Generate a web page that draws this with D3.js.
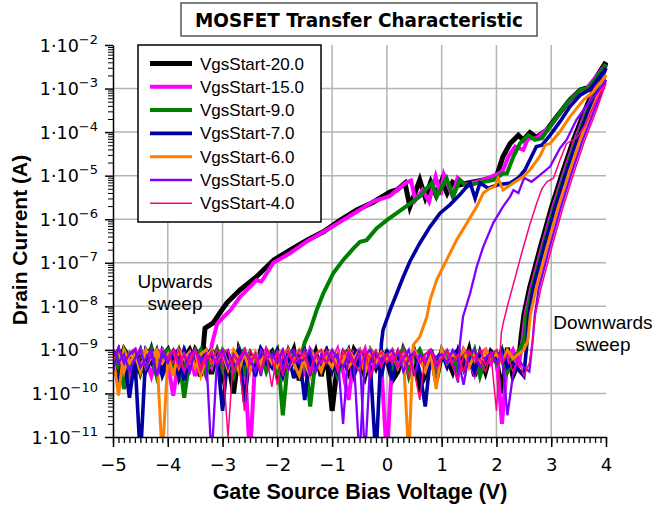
<!DOCTYPE html>
<html>
<head>
<meta charset="utf-8">
<script src="https://cdn.jsdelivr.net/npm/d3@7"></script>
<style>
  body { margin: 0; background: #fff; }
</style>
</head>
<body>
<div id="vis"></div>
<script>
// Transfer curves, values are log10(Id / A).
// Noise arrays are sampled every 0.1 V starting at the noise start voltage.
const seriesNames = ["VgsStart-20.0", "VgsStart-15.0", "VgsStart-9.0", "VgsStart-7.0", "VgsStart-6.0", "VgsStart-5.0", "VgsStart-4.0"]
const xTicks = [-5, -4, -3, -2, -1, 0, 1, 2, 3, 4]
const yDecades = [-11, -10, -9, -8, -7, -6, -5, -4, -3, -2]
const noiseStep = 0.1

// VgsStart -20
const blackUpNoise = [-9.1, -9.3, -9.0, -9.2, -9.05, -9.5, -9.1, -9.0, -9.3, -9.15, -9.0, -9.4, -9.1, -9.2, -9.0, -9.3, -9.6]
const blackUpCurve = [[-3.32, -8.50], [-3.17, -8.38], [-3.05, -8.15], [-2.92, -7.92], [-2.68, -7.62], [-2.38, -7.32], [-2.07, -6.94], [-1.77, -6.71], [-1.46, -6.48], [-1.16, -6.29], [-0.85, -6.02], [-0.55, -5.79], [-0.25, -5.61], [0.06, -5.37], [0.18, -5.33], [0.33, -5.17], [0.42, -5.71], [0.60, -5.10], [0.70, -5.50], [0.80, -5.15], [0.90, -5.45], [1.00, -5.12], [1.10, -5.40], [1.20, -5.15], [1.30, -5.22], [1.46, -5.17], [1.76, -5.10], [2.00, -5.02], [2.12, -4.56], [2.25, -4.26], [2.40, -4.07], [2.49, -4.18], [2.61, -4.01], [2.73, -4.12], [2.92, -3.95], [3.10, -3.65], [3.34, -3.26], [3.53, -3.03], [3.71, -2.96], [4.00, -2.39]]
const blackDownCurve = [[4.00, -2.40], [3.80, -2.95], [3.60, -3.55], [3.40, -4.20], [3.20, -4.95], [3.00, -5.75], [2.80, -6.65], [2.60, -7.60], [2.50, -8.20], [2.45, -8.70]]
const blackDownNoise = [
  -9.2, -9.45, -9.0, -9.2, -9.55, -9.1, -9.4, -9.0, -9.5, -9.05,
  -9.3, -9.1, -9.6, -9.15, -9.4, -9.0, -9.2, -9.1, -9.55, -9.0,
  -9.6, -9.2, -10.0, -9.0, -9.3, -9.1, -9.45, -9.0, -9.2, -9.05,
  -9.55, -9.1, -9.3, -9.0, -9.7, -9.1, -9.4, -9.05, -9.6, -9.1,
  -10.4, -9.3, -9.15, -9.5, -9.0, -9.2, -9.6, -9.1, -9.4, -9.05,
  -9.2, -9.7, -9.5, -9.0, -9.3, -9.1, -9.85, -9.6, -9.0, -9.7,
  -9.1, -9.2, -9.5, -9.05, -9.4, -9.0, -9.6, -9.1, -9.5, -9.05,
  -9.2, -10.0, -8.95, -9.6, -9.3]

// VgsStart -15
const magentaUpNoise = [-9.3, -9.05, -9.5, -9.1, -9.0, -9.4, -9.2, -9.6, -9.1, -9.0, -9.3, -10.05, -9.2, -9.0, -9.45, -9.1, -9.3, -9.6]
const magentaUpCurve = [[-3.19, -8.85], [-3.10, -8.40], [-2.98, -8.24], [-2.85, -8.08], [-2.68, -7.78], [-2.38, -7.40], [-2.29, -7.43], [-2.07, -7.00], [-1.77, -6.78], [-1.46, -6.51], [-1.16, -6.29], [-0.85, -6.06], [-0.55, -5.83], [-0.25, -5.59], [0.05, -5.47], [0.35, -5.16], [0.44, -5.11], [0.52, -5.56], [0.65, -5.33], [0.77, -5.60], [0.89, -5.02], [0.98, -5.44], [1.04, -4.98], [1.20, -5.48], [1.29, -5.05], [1.43, -5.21], [1.76, -5.10], [2.06, -4.94], [2.12, -4.87], [2.22, -4.56], [2.34, -4.33], [2.49, -4.41], [2.58, -4.14], [2.73, -4.14], [2.98, -3.88], [3.22, -3.45], [3.46, -3.11], [3.65, -2.99], [4.00, -2.45]]
const magentaDownCurve = [[4.00, -2.45], [3.82, -2.95], [3.63, -3.55], [3.43, -4.20], [3.23, -4.95], [3.03, -5.75], [2.83, -6.65], [2.63, -7.60], [2.53, -8.20], [2.48, -8.75]]
const magentaDownNoise = [
  -9.0, -9.35, -9.1, -9.6, -9.2, -9.0, -9.45, -9.1, -9.3, -9.05,
  -9.5, -9.2, -9.0, -9.35, -9.1, -9.6, -9.05, -9.2, -9.4, -9.0,
  -9.3, -9.1, -9.5, -9.0, -9.2, -11.5, -9.1, -9.4, -9.0, -9.25,
  -9.1, -9.5, -9.0, -9.3, -9.15, -9.6, -9.0, -9.2, -9.45, -9.1,
  -9.3, -9.0, -9.5, -10.15, -9.1, -9.3, -9.0, -9.6, -9.15, -9.4,
  -11.5, -9.1, -9.3, -9.0, -9.5, -9.2, -9.05, -9.4, -9.1, -9.6,
  -9.0, -9.3, -9.1, -9.45, -9.0, -9.2, -9.55, -9.1, -9.0, -9.3,
  -9.1, -10.7, -9.2, -9.0, -9.4]

// VgsStart -9
const greenUpNoise = [
  -9.2, -9.0, -9.9, -9.3, -9.1, -9.5, -9.0, -9.2, -9.6, -9.1,
  -9.0, -9.4, -9.1, -10.1, -9.2, -9.0, -9.5, -9.1, -9.3, -9.0,
  -9.45, -9.1, -9.2, -9.0, -9.6, -9.1, -9.3, -9.05, -9.5, -9.2,
  -9.0, -10.5, -9.2, -9.1, -9.3]
const greenUpCurve = [[-1.50, -8.83], [-1.40, -8.54], [-1.28, -8.08], [-1.16, -7.70], [-0.98, -7.24], [-0.80, -6.94], [-0.61, -6.67], [-0.49, -6.52], [-0.37, -6.48], [-0.19, -6.21], [0.00, -6.02], [0.30, -5.75], [0.60, -5.48], [0.73, -5.29], [0.82, -5.17], [0.91, -5.48], [1.09, -5.06], [1.21, -5.48], [1.33, -5.10], [1.46, -5.25], [1.64, -5.17], [1.94, -5.10], [2.12, -4.95], [2.19, -4.95], [2.31, -4.56], [2.43, -4.26], [2.58, -4.07], [2.70, -4.18], [2.83, -4.14], [3.04, -3.76], [3.28, -3.34], [3.53, -3.03], [3.68, -2.99], [4.00, -2.46]]
const greenDownCurve = [[4.00, -2.46], [3.85, -2.95], [3.65, -3.55], [3.45, -4.20], [3.25, -4.95], [3.05, -5.75], [2.85, -6.65], [2.65, -7.60], [2.55, -8.20], [2.50, -8.80]]
const greenDownNoise = [
  -9.1, -9.4, -9.0, -9.2, -9.5, -9.05, -9.3, -9.0, -9.6, -9.2,
  -9.1, -9.3, -9.0, -9.45, -9.1, -9.2, -9.0, -9.55, -9.15, -9.3,
  -9.0, -9.2, -9.6, -9.1, -9.0, -9.4, -9.2, -9.05, -9.3, -9.1,
  -9.5, -9.2, -9.0, -9.3, -9.1, -9.05, -10.3, -9.2, -9.4, -9.0,
  -9.2, -9.6, -9.1, -9.0, -9.35, -9.1, -9.5, -9.0, -9.2, -9.3,
  -9.05, -9.4, -9.1, -9.0, -9.6, -9.2, -9.0, -9.3, -9.1, -9.45,
  -9.0, -9.2, -9.1, -9.5, -9.05, -9.3, -9.0, -9.6, -9.2, -9.1,
  -9.3, -9.0, -9.5, -9.2, -9.05]

// VgsStart -7
const blueUpNoise = [
  -9.4, -9.7, -9.1, -10.1, -9.2, -11.5, -9.05, -9.3, -9.0, -9.5,
  -9.1, -9.2, -9.6, -9.0, -9.3, -9.1, -9.45, -9.0, -9.2, -9.1,
  -10.4, -9.1, -9.3, -9.0, -10.2, -9.15, -9.5, -9.0, -9.3, -9.1,
  -9.2, -9.6, -9.05, -9.3, -9.1, -10.15, -9.0, -9.4, -9.2, -9.0,
  -9.5, -9.1, -9.3, -9.0, -9.6, -9.2, -9.1, -9.4, -11.5]
const blueUpCurve = [[-0.10, -8.85], [-0.07, -8.54], [0.06, -8.08], [0.18, -7.70], [0.30, -7.32], [0.42, -6.97], [0.60, -6.55], [0.79, -6.17], [0.97, -5.86], [1.15, -5.67], [1.33, -5.44], [1.46, -5.25], [1.52, -5.17], [1.61, -5.52], [1.70, -5.17], [1.85, -5.29], [2.03, -5.21], [2.25, -5.17], [2.40, -5.05], [2.52, -4.87], [2.64, -4.56], [2.73, -4.33], [2.83, -4.30], [2.98, -4.07], [3.16, -3.76], [3.34, -3.42], [3.53, -3.15], [3.71, -3.02], [4.00, -2.53]]
const blueDownCurve = [[4.00, -2.53], [3.87, -2.95], [3.67, -3.55], [3.47, -4.20], [3.27, -4.95], [3.07, -5.75], [2.87, -6.65], [2.67, -7.60], [2.59, -8.20], [2.56, -8.80]]
const blueDownNoise = [
  -9.2, -9.0, -9.4, -9.1, -9.3, -9.0, -9.5, -9.2, -9.05, -9.6,
  -9.3, -9.1, -9.0, -9.7, -9.2, -9.05, -9.4, -9.1, -9.0, -9.3,
  -9.1, -9.5, -9.2, -9.0, -9.3, -9.1, -9.6, -9.05, -9.2, -9.4,
  -9.0, -9.3, -9.1, -9.65, -9.2, -9.0, -9.4, -9.1, -9.3, -9.0,
  -9.2, -9.5, -9.05, -9.3, -9.1, -9.0, -9.4, -9.2, -9.1, -9.6,
  -9.0, -9.7, -9.2, -9.1, -9.3, -9.0, -9.5, -10.3, -9.1, -9.2,
  -9.05, -9.4, -9.1, -9.0, -9.3, -9.2, -9.5, -9.05, -9.3, -9.1,
  -9.2, -9.0, -9.4, -9.3, -9.45, -9.6]

// VgsStart -6
const orangeUpNoise = [
  -9.1, -10.05, -9.0, -9.3, -9.1, -9.5, -9.0, -9.2, -9.1, -11.5,
  -9.2, -9.0, -9.4, -9.1, -9.3, -9.05, -9.6, -9.2, -9.0, -9.3,
  -9.1, -9.45, -9.0, -9.2, -9.1, -9.5, -9.05, -9.3, -9.0, -9.2,
  -9.4, -9.1, -9.0, -9.3, -9.6, -9.1, -9.0, -9.2, -9.5, -9.1,
  -9.0, -9.3, -9.1, -9.4, -9.2, -9.0, -9.5, -9.1, -9.3, -9.05,
  -9.2, -9.0, -9.4, -9.1, -11.5]
const orangeUpCurve = [[0.48, -8.89], [0.60, -8.70], [0.73, -8.24], [0.79, -7.85], [0.91, -7.39], [1.09, -6.94], [1.27, -6.48], [1.46, -6.09], [1.64, -5.71], [1.76, -5.40], [1.88, -5.29], [1.97, -5.25], [2.03, -5.06], [2.12, -5.33], [2.31, -5.17], [2.49, -5.02], [2.61, -4.87], [2.79, -4.56], [2.89, -4.30], [2.98, -4.26], [3.16, -3.99], [3.34, -3.65], [3.59, -3.26], [3.77, -3.07], [4.00, -2.69]]
const orangeDownCurve = [[4.00, -2.69], [3.90, -3.00], [3.72, -3.55], [3.52, -4.20], [3.32, -4.95], [3.12, -5.75], [2.92, -6.65], [2.72, -7.60], [2.62, -8.20], [2.57, -8.80]]
const orangeDownNoise = [
  -9.3, -9.0, -9.5, -9.1, -9.2, -9.0, -9.4, -9.15, -9.0, -9.3,
  -9.1, -9.6, -9.0, -9.2, -9.05, -9.4, -9.1, -9.0, -9.3, -9.2,
  -9.0, -9.35, -9.1, -9.5, -9.0, -9.2, -9.1, -9.4, -9.05, -9.3,
  -9.1, -9.0, -9.45, -9.2, -9.0, -9.3, -9.6, -9.1, -9.0, -9.2,
  -9.4, -9.05, -9.3, -9.0, -9.2, -9.1, -9.5, -9.0, -9.3, -9.1,
  -9.2, -9.0, -9.4, -9.1, -9.3, -9.0, -9.2, -9.5, -9.1, -9.9,
  -9.0, -9.3, -9.1, -9.2, -9.0, -9.4, -9.1, -9.3, -9.0, -9.2,
  -9.1, -9.3, -9.0, -9.2, -9.1, -9.0]

// VgsStart -5
const purpleUpNoise = [
  -9.5, -8.95, -9.3, -9.1, -9.0, -9.4, -9.2, -9.0, -9.6, -9.1,
  -9.3, -9.0, -9.2, -9.5, -9.1, -9.0, -9.3, -9.1, -11.5, -9.2,
  -9.0, -9.4, -9.1, -9.3, -9.05, -9.2, -9.5, -9.0, -9.2, -9.1,
  -9.3, -9.0, -9.45, -9.1, -9.2, -9.0, -9.6, -9.1, -9.3, -9.05,
  -9.2, -9.1, -10.7, -9.0, -9.3, -11.5, -9.1, -9.0, -9.4, -9.2,
  -9.1, -9.3, -9.0, -9.5, -9.2, -9.05, -9.3, -9.1, -9.0, -9.4,
  -9.2, -9.0, -9.3, -9.75]
const purpleUpCurve = [[1.33, -8.89], [1.39, -8.24], [1.52, -7.70], [1.64, -7.09], [1.76, -6.63], [1.94, -6.09], [2.12, -5.71], [2.25, -5.48], [2.31, -5.33], [2.40, -5.40], [2.49, -5.10], [2.52, -5.06], [2.64, -5.14], [2.76, -5.02], [2.98, -4.79], [3.16, -4.37], [3.28, -4.18], [3.46, -3.72], [3.65, -3.38], [3.83, -3.11], [4.00, -2.80]]
const purpleDownCurve = [[4.00, -2.80], [3.93, -3.05], [3.77, -3.55], [3.57, -4.20], [3.37, -4.95], [3.17, -5.75], [2.97, -6.65], [2.77, -7.60], [2.70, -8.20], [2.66, -8.80]]
const purpleDownNoise = [
  -9.0, -9.3, -9.1, -9.5, -9.2, -9.0, -9.4, -9.1, -9.6, -9.05,
  -9.2, -9.0, -9.35, -9.1, -9.5, -9.0, -9.2, -9.3, -9.05, -9.4,
  -9.1, -9.0, -9.5, -9.2, -9.0, -9.3, -9.1, -9.6, -9.0, -9.2,
  -9.05, -9.4, -9.1, -9.0, -9.3, -9.2, -9.0, -9.5, -9.1, -9.3,
  -9.0, -9.2, -9.4, -9.1, -9.3, -9.0, -11.5, -9.2, -9.05, -9.3,
  -9.1, -9.0, -9.4, -9.2, -9.0, -9.6, -9.1, -9.3, -9.0, -9.2,
  -9.1, -9.3, -9.0, -9.2, -9.8, -9.1, -9.0, -9.4, -9.2, -9.05,
  -9.3, -9.1, -10.5, -9.6, -9.2, -9.4, -9.5]

// VgsStart -4
const pinkUpNoise = [
  -9.1, -9.3, -9.0, -9.5, -9.2, -9.0, -9.4, -9.1, -9.3, -9.0,
  -9.2, -11.0, -9.1, -9.3, -10.4, -9.0, -9.2, -9.5, -9.1, -9.85,
  -9.0, -9.6, -9.1, -9.3, -9.0, -9.2, -9.45, -9.1, -9.0, -9.3,
  -9.1, -9.5, -9.0, -9.2, -9.35, -9.1, -9.0, -9.6, -9.2, -9.05,
  -9.3, -9.1, -9.4, -9.0, -9.2, -9.5, -10.15, -9.1, -9.0, -9.3,
  -9.2, -9.05, -9.4, -9.7, -9.1, -9.0, -9.3, -9.2, -9.5, -9.1,
  -10.4]
const pinkUpCurve = [[2.09, -8.60], [2.13, -8.35], [2.22, -7.90], [2.34, -7.35], [2.46, -6.78], [2.61, -6.12], [2.73, -5.65], [2.83, -5.30], [2.92, -5.14], [3.04, -5.06], [3.16, -4.64], [3.28, -4.26], [3.46, -4.14], [3.62, -3.84], [3.77, -3.42], [3.89, -3.11], [4.00, -2.88]]
const pinkDownCurve = [[4.00, -2.88], [3.95, -3.05], [3.81, -3.55], [3.61, -4.20], [3.41, -4.95], [3.21, -5.75], [3.01, -6.65], [2.81, -7.60], [2.71, -8.20], [2.66, -8.80]]
const pinkDownNoise = [
  -9.2, -9.0, -9.4, -9.1, -9.3, -9.0, -9.5, -9.2, -9.05, -9.3,
  -9.1, -9.0, -9.5, -9.2, -9.0, -9.3, -9.1, -9.45, -9.0, -9.2,
  -9.8, -9.1, -9.0, -9.3, -9.2, -9.05, -9.5, -9.1, -9.3, -9.0,
  -9.2, -9.4, -9.1, -9.0, -9.3, -9.5, -9.05, -9.2, -9.0, -9.4,
  -9.1, -9.3, -9.0, -9.2, -9.6, -9.05, -9.3, -9.1, -9.0, -9.45,
  -9.2, -9.0, -9.3, -9.1, -9.5, -9.05, -9.2, -9.0, -9.35, -9.1,
  -9.0, -9.3, -9.1, -9.5, -9.2, -9.6, -9.3]

const noiseStarts = [-5, -5, -5, -5, -5, -5, -4]
const colors = ["#000000", "#ff00ff", "#008000", "#0000a0", "#ff8000", "#8000ff", "#ff0080"]
const lineWidths = [5, 4, 4, 3.6, 3, 2.3, 1.5]

const series = [
  [blackUpNoise, blackUpCurve, blackDownCurve, blackDownNoise],
  [magentaUpNoise, magentaUpCurve, magentaDownCurve, magentaDownNoise],
  [greenUpNoise, greenUpCurve, greenDownCurve, greenDownNoise],
  [blueUpNoise, blueUpCurve, blueDownCurve, blueDownNoise],
  [orangeUpNoise, orangeUpCurve, orangeDownCurve, orangeDownNoise],
  [purpleUpNoise, purpleUpCurve, purpleDownCurve, purpleDownNoise],
  [pinkUpNoise, pinkUpCurve, pinkDownCurve, pinkDownNoise]
].map((s, k) => {
  let start = noiseStarts[k]
  let toPts = arr => arr.map((l, i) => [start + i * noiseStep, l])
  return {
    name: seriesNames[k],
    up: toPts(s[0]).concat(s[1]),
    down: s[2].concat(toPts(s[3]).reverse())
  }
})

const margin = { left: 113, top: 45, right: 56, bottom: 69 }
const width = 662 - margin.left - margin.right
const height = 506 - margin.top - margin.bottom

let svg = d3.select("#vis")
  .append("svg")
  .attr("width", 662)
  .attr("height", 506)
  .style("background", "#fff")

let x = d3.scaleLinear().domain([-5, 4]).range([0, width])
let y = d3.scaleLog().domain([1e-11, 1e-2]).range([height, 0])

let g = svg.append("g")
  .attr("transform", "translate(" + margin.left + "," + margin.top + ")")

// grid
g.append("g").selectAll("line")
  .data(xTicks.filter(v => v > -5 && v < 4))
  .join("line")
  .attr("x1", d => x(d)).attr("x2", d => x(d))
  .attr("y1", 0).attr("y2", height)
  .attr("stroke", "#b4b4b4").attr("stroke-width", 1.5)

g.append("g").selectAll("line")
  .data(yDecades.filter(e => e > -11 && e < -2))
  .join("line")
  .attr("x1", 0).attr("x2", width)
  .attr("y1", d => y(Math.pow(10, d))).attr("y2", d => y(Math.pow(10, d)))
  .attr("stroke", "#b4b4b4").attr("stroke-width", 1.5)

// curves
svg.append("defs").append("clipPath").attr("id", "plotclip")
  .append("rect").attr("x", 0).attr("y", 0).attr("width", width + 4).attr("height", height)

let line = d3.line()
  .x(d => x(d[0]))
  .y(d => y(Math.pow(10, d[1])))

let curves = g.append("g").attr("clip-path", "url(#plotclip)")
series.forEach((s, k) => {
  [s.up, s.down].forEach(pts => {
    curves.append("path")
      .datum(pts)
      .attr("fill", "none")
      .attr("stroke", colors[k])
      .attr("stroke-width", lineWidths[k])
      .attr("d", line)
  })
})

// x axis
let minorX = d3.range(-50, 41).map(i => i / 10)
g.append("g")
  .attr("transform", `translate(0,${height})`)
  .call(d3.axisBottom(x).tickValues(minorX).tickSize(6).tickSizeOuter(0).tickFormat(""))
  .call(a => a.selectAll("line").attr("stroke", "#000").attr("stroke-width", 1.3))
  .call(a => a.select(".domain").remove())

let xAxis = g.append("g")
  .attr("transform", `translate(0,${height})`)
  .call(d3.axisBottom(x).tickValues(xTicks).tickSize(10).tickSizeOuter(0).tickFormat(d3.format("d")))
xAxis.select(".domain").attr("stroke", "#000").attr("stroke-width", 1.5)
xAxis.selectAll(".tick line").attr("stroke", "#000").attr("stroke-width", 1.5)
xAxis.selectAll("text")
  .attr("y", 21)
  .style("font-family", "'DejaVu Sans', Verdana, sans-serif")
  .style("font-size", "18px")
  .attr("fill", "#000")

// y axis
let minorY = []
yDecades.slice(0, -1).forEach(e => {
  for (let m = 2; m <= 9; m++) minorY.push(m * Math.pow(10, e))
})
g.append("g")
  .call(d3.axisLeft(y).tickValues(minorY).tickSize(5).tickSizeOuter(0).tickFormat(""))
  .call(a => a.selectAll("line").attr("stroke", "#000").attr("stroke-width", 1))
  .call(a => a.select(".domain").remove())

let yAxis = g.append("g")
  .call(d3.axisLeft(y).tickValues(yDecades.map(e => Math.pow(10, e))).tickSize(8).tickSizeOuter(0).tickFormat(""))
yAxis.select(".domain").attr("stroke", "#000").attr("stroke-width", 1.5)
yAxis.selectAll(".tick line").attr("stroke", "#000").attr("stroke-width", 1.5)
yAxis.selectAll(".tick").each(function (d) {
  let e = Math.round(Math.log10(d))
  let t = d3.select(this).append("text")
    .attr("x", -15)
    .attr("y", 6)
    .attr("text-anchor", "end")
    .attr("fill", "#000")
    .style("font-family", "'DejaVu Sans', Verdana, sans-serif")
    .style("font-size", "17.5px")
  t.append("tspan").text("1·10")
  t.append("tspan").attr("dy", -8).style("font-size", "13px").text("\u2212" + Math.abs(e))
})

// axis titles
svg.append("text")
  .attr("x", 360).attr("y", 499)
  .attr("text-anchor", "middle")
  .style("font-family", "'Liberation Sans', Arial, sans-serif")
  .style("font-weight", "bold")
  .style("font-size", "21.5px")
  .text("Gate Source Bias Voltage (V)")

svg.append("text")
  .attr("transform", "translate(27,240) rotate(-90)")
  .attr("text-anchor", "middle")
  .style("font-family", "'Liberation Sans', Arial, sans-serif")
  .style("font-weight", "bold")
  .style("font-size", "21px")
  .text("Drain Current (A)")

// title
svg.append("rect")
  .attr("x", 181).attr("y", 3).attr("width", 356).attr("height", 33)
  .attr("fill", "#fff").attr("stroke", "#555").attr("stroke-width", 1.5)
svg.append("text")
  .attr("x", 359).attr("y", 27)
  .attr("text-anchor", "middle")
  .attr("textLength", 328).attr("lengthAdjust", "spacingAndGlyphs")
  .style("font-family", "'DejaVu Sans Condensed', 'DejaVu Sans', sans-serif")
  .style("font-weight", "bold")
  .style("font-size", "19px")
  .text("MOSFET Transfer Characteristic")

// annotations
let note = (txt, cx, cy) => svg.append("text")
  .attr("x", cx).attr("y", cy)
  .attr("text-anchor", "middle")
  .style("font-family", "'Liberation Sans', Arial, sans-serif")
  .style("font-size", "19px")
  .text(txt)
note("Upwards", 175, 288)
note("sweep", 175, 310)
note("Downwards", 603, 329)
note("sweep", 603, 351)

// legend
let legend = svg.append("g").attr("transform", "translate(138,45)")
legend.append("rect")
  .attr("width", 183).attr("height", 177)
  .attr("fill", "#fff").attr("stroke", "#000").attr("stroke-width", 1.5)
seriesNames.forEach((name, k) => {
  let row = legend.append("g").attr("transform", `translate(0,${18.5 + k * 23.3})`)
  row.append("line")
    .attr("x1", 12).attr("x2", 54)
    .attr("stroke", colors[k]).attr("stroke-width", lineWidths[k])
  row.append("text")
    .attr("x", 62).attr("y", 6)
    .style("font-family", "'Liberation Sans', Arial, sans-serif")
    .style("font-size", "17px")
    .text(name)
})
</script>
</body>
</html>
